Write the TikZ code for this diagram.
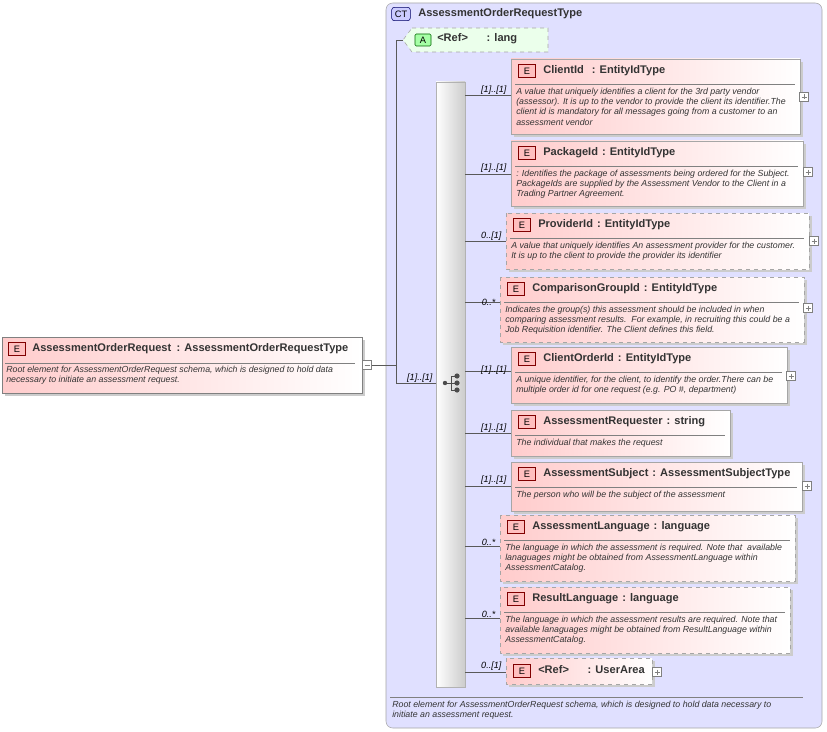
\documentclass[tikz,border=0pt]{standalone}
\usepackage{fontspec}
\setmainfont{Liberation Sans}
\begin{document}
\begin{tikzpicture}[x=0.75pt,y=-0.75pt,
  ttl/.style={anchor=west,font=\bfseries\fontsize{8.3}{9}\selectfont,text=black!80,inner sep=0},
  dsc/.style={anchor=north west,font=\itshape\fontsize{6.6}{7.6}\selectfont,text=black!80,inner sep=0,align=left},
  lbl/.style={anchor=east,font=\itshape\fontsize{6.8}{7}\selectfont,inner sep=1pt},
  badge/.style={draw=red!50!black,fill=red!25,font=\fontsize{7}{7}\selectfont,minimum width=13pt,minimum height=10pt,inner sep=0},
  conn/.style={draw=gray!70!black,line width=0.5pt},
  plus/.style={draw=gray,fill=white,line width=0.4pt}]
\useasboundingbox (0,0) rectangle (827,731);
\fill[white] (0,0) rectangle (827,731);
% container
\draw[gray!70,fill=blue!12,rounded corners=5pt] (386,3) rectangle (822,728);
\node[draw=blue!40!black,fill=blue!20,rounded corners=2pt,font=\fontsize{7}{7}\selectfont,minimum width=14pt,minimum height=10pt,inner sep=0] (ct) at (401,14) {CT};
\node[ttl] (ctt) at (418,14) {AssessmentOrderRequestType};
\draw[gray] (390,697) -- (803,697);
\node[dsc] (ctd) at (392,701) {Root element for AssessmentOrderRequest schema, which is designed to hold data necessary to\\initiate an assessment request.};
% attribute
\draw[gray!70,dashed,fill=green!8] (412,28) -- (548,28) -- (548,52) -- (412,52) -- (403,40) -- cycle;
\node[draw=green!40!black,fill=green!35,font=\fontsize{7}{7}\selectfont,minimum width=12pt,minimum height=9pt,inner sep=0,rounded corners=1pt] (ab) at (423,40) {A};
\node[ttl] (at) at (437,39) {<Ref>\hspace{14pt}: lang};
\coordinate (attl) at (403,40);
% main element
\fill[black!20] (5,340) rectangle (365,396);
\shade[left color=red!20,right color=white,draw=gray] (2,337) rectangle (362,393);
\node[badge] (mb) at (17,349) {E};
\node[ttl] (mt) at (32,349) {AssessmentOrderRequest\hspace{4pt}: AssessmentOrderRequestType};
\draw[gray] (5,363) -- (355,363);
\node[dsc] (md) at (6,366) {Root element for AssessmentOrderRequest schema, which is designed to hold data\\necessary to initiate an assessment request.};
\node[plus,minimum size=7pt,inner sep=0] (mm) at (367,365) {};
\draw[gray] (364.5,365) -- (369.5,365);
% sequence bar
\shade[left color=white,right color=gray!40,draw=gray!60] (436,82) rectangle (465,687);
\node (seq) at (451,383) {};
\draw[black!70,line width=0.7pt] (445,383) -- (451,383) (451,376) -- (451,390) (451,376) -- (457,376) (451,383) -- (457,383) (451,390) -- (457,390);
\fill[black!70] (445,383) circle (2.2);
\foreach \yy in {376,383,390} \fill[black!70] (457,\yy) circle (2.6);
% connectors main
\draw[conn] (mm.east) -- (396,365) -- (396,383) -- (436,383);
\draw[conn] (396,365) -- (396,40) -- (attl);
\node[lbl] at (434,378) {[1]..[1]};
% element macro
\newcommand{\elm}[9]{%
  \fill[black!20] (#1+3,#2+3) rectangle (#3+3,#4+3);
  \shade[left color=red!20,right color=white] (#1,#2) rectangle (#3,#4);
  \draw[gray!70,#5] (#1,#2) rectangle (#3,#4);
  \node[badge] (b#9) at (#1+16,#2+12) {E};
  \node[ttl] (t#9) at (#1+32,#2+12) {#6};
  \draw[gray] (#1+4,#2+25) -- (#3-5,#2+25);
  \node[dsc] (d#9) at (#1+5,#2+29) {#7};
  \coordinate (c#9) at (#1,#8);
  \draw[conn] (465,#8) -- (c#9);
}
\newcommand{\pls}[2]{\node[plus,minimum size=7pt,inner sep=0] at (#1,#2) {};\draw[gray] (#1-2.5,#2) -- (#1+2.5,#2) (#1,#2-2.5) -- (#1,#2+2.5);}
\elm{511}{59}{800}{134}{solid}{ClientId\hspace{6pt}: EntityIdType}{A value that uniquely identifies a client for the 3rd party vendor\\(assessor). It is up to the vendor to provide the client its identifier.The\\client id is mandatory for all messages going from a customer to an\\assessment vendor}{95}{1}
\node[lbl] at (508,90) {[1]..[1]}; \pls{804}{97}
\elm{511}{141}{803}{206}{solid}{PackageId\hspace{3pt}: EntityIdType}{: Identifies the package of assessments being ordered for the Subject.\\PackageIds are supplied by the Assessment Vendor to the Client in a\\Trading Partner Agreement.}{174}{2}
\node[lbl] at (508,168) {[1]..[1]}; \pls{808}{172}
\elm{506}{213}{809}{269}{dashed}{ProviderId\hspace{3pt}: EntityIdType}{A value that uniquely identifies An assessment provider for the customer.\\It is up to the client to provide the provider its identifier}{241}{3}
\node[lbl] at (503,236) {0..[1]}; \pls{814}{241}
\elm{500}{277}{804}{342}{dashed}{ComparisonGroupId\hspace{3pt}: EntityIdType}{Indicates the group(s) this assessment should be included in when\\comparing assessment results.\ \ For example, in recruiting this could be a\\Job Requisition identifier. The Client defines this field.}{302}{4}
\node[lbl] at (497,302) {0..*}; \pls{808}{308}
\elm{511}{347}{787}{403}{solid}{ClientOrderId\hspace{3pt}: EntityIdType}{A unique identifier, for the client, to identify the order.There can be\\multiple order id for one request (e.g. PO \#, department)}{371}{5}
\node[lbl] at (508,370) {[1]..[1]}; \pls{791}{376}
\elm{511}{410}{730}{456}{solid}{AssessmentRequester\hspace{3pt}: string}{The individual that makes the request}{433}{6}
\node[lbl] at (508,428) {[1]..[1]};
\elm{511}{462}{802}{511}{solid}{AssessmentSubject\hspace{3pt}: AssessmentSubjectType}{The person who will be the subject of the assessment}{486}{7}
\node[lbl] at (508,480) {[1]..[1]}; \pls{807}{486}
\elm{500}{515}{795}{581}{dashed}{AssessmentLanguage\hspace{3pt}: language}{The language in which the assessment is required. Note that\ \ available\\lanaguages might be obtained from AssessmentLanguage within\\AssessmentCatalog.}{546}{8}
\node[lbl] at (497,542) {0..*};
\elm{500}{587}{790}{653}{dashed}{ResultLanguage\hspace{3pt}: language}{The language in which the assessment results are required. Note that\\available lanaguages might be obtained from ResultLanguage within\\AssessmentCatalog.}{618}{9}
\node[lbl] at (497,614) {0..*};
% UserArea ref
\fill[black!20] (509,661) rectangle (655,687);
\shade[left color=red!20,right color=white] (506,658) rectangle (652,684);
\draw[gray!70,dashed] (506,658) rectangle (652,684);
\node[badge] (b10) at (522,671) {E};
\node[ttl] (t10) at (538,670) {<Ref>\hspace{14pt}: UserArea};
\coordinate (c10) at (506,672);
\draw[conn] (465,672) -- (c10);
\node[lbl] at (503,666) {0..[1]}; \pls{657}{672}
\end{tikzpicture}
\end{document}
